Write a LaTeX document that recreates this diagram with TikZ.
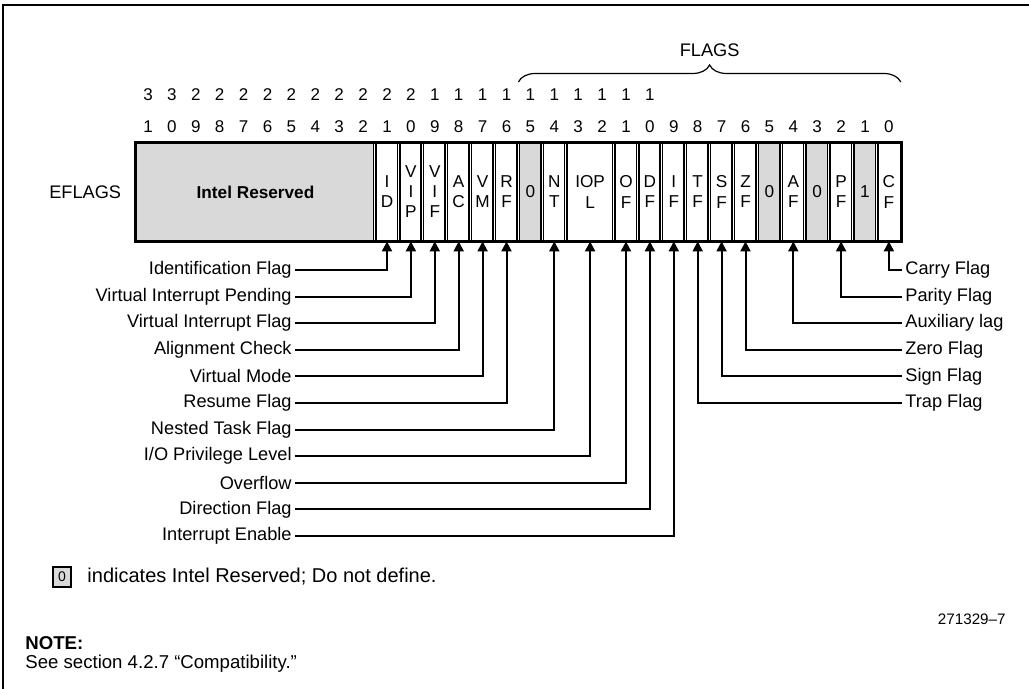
\documentclass[tikz,border=0pt]{standalone}
\usepackage{fontspec}
\setmainfont{Liberation Sans}
\usetikzlibrary{arrows.meta,positioning,decorations.pathreplacing,calc}

\begin{document}
\begin{tikzpicture}[x=0.5pt, y=-0.5pt,
  every node/.style={font=\fontsize{9.1}{10}\selectfont},
  bitno/.style={font=\fontsize{8.5}{9}\selectfont, inner sep=0pt},
  cell/.style={minimum width=11.95pt, minimum height=49pt, inner sep=0pt, align=center, font=\fontsize{8.6}{10}\selectfont},
  rsvd/.style={cell, fill=black!15},
  sep/.style={line width=0.8pt, double=white, double distance=0.4pt},
  flagl/.style={anchor=east, inner sep=1.5pt},
  flagr/.style={anchor=west, inner sep=1.5pt},
  ptr/.style={-{Triangle[width=5pt,length=5pt]}, line width=1pt}
]
  \useasboundingbox (0,0) rectangle (1029,689);
  % page frame
  \draw[line width=1pt] (3,689) -- (3,5) -- (1029,5);

  % register cells
  \node[rsvd, minimum width=119.5pt, font=\bfseries\fontsize{8.6}{10}\selectfont] (rsv) at ({136+5*23.9},192) {Intel Reserved};
  \foreach \b/\t in {21/{I\\D}, 20/{V\\I\\P}, 19/{V\\I\\F}, 18/{A\\C}, 17/{V\\M}, 16/{R\\F},
                     14/{N\\T}, 11/{O\\F}, 10/{D\\F}, 9/{I\\F}, 8/{T\\F}, 7/{S\\F}, 6/{Z\\F},
                     4/{A\\F}, 2/{P\\F}, 0/{C\\F}}
    \node[cell] (b\b) at ({148+(31-\b)*23.9},192) {\t};
  \foreach \b/\t in {15/0, 5/0, 3/0, 1/1}
    \node[rsvd] (b\b) at ({148+(31-\b)*23.9},192) {\t};
  \node[cell, minimum width=23.9pt] (b13) at ({136+19*23.9},192) {IOP\\L};

  \foreach \b in {21,...,13,11,10,...,0}
    \draw[sep] (b\b.north west) -- (b\b.south west);
  \draw[line width=1.7pt] (rsv.north west) rectangle (b0.south east);
  \node[left=3.7pt of rsv] (eflags) {EFLAGS};

  % bit numbers
  \foreach \b in {0,...,31}{
    \pgfmathtruncatemacro\u{mod(\b,10)}
    \pgfmathtruncatemacro\t{floor(\b/10)}
    \node[bitno] (u\b) at ({148+(31-\b)*23.9},127) {\u};
    \ifnum\b>9 \node[bitno] (t\b) at ({148+(31-\b)*23.9},95) {\t}; \fi
  }

  % FLAGS brace
  \coordinate (brL) at ({136+16*23.9},82);
  \coordinate (brR) at ({136+32*23.9},82);
  \draw[line width=0.6pt, decorate, decoration={brace, amplitude=8.5pt}] (brL) -- (brR);
  \node (flags) at ($(brL)!0.5!(brR)+(0,-32)$) {FLAGS};

  % flag names, left side
  \foreach \b/\r/\txt in {21/0/{Identification Flag}, 20/1/{Virtual Interrupt Pending},
                          19/2/{Virtual Interrupt Flag}, 18/3/{Alignment Check},
                          17/4/{Virtual Mode}, 16/5/{Resume Flag}, 14/6/{Nested Task Flag},
                          13/7/{I/O Privilege Level}, 11/8/{Overflow},
                          10/9/{Direction Flag}, 9/10/{Interrupt Enable}}{
    \node[flagl] (l\b) at (295,{270+\r*26.6}) {\txt};
    \draw[ptr] (l\b.east) -| (b\b.south);
  }

  % flag names, right side
  \foreach \b/\r/\txt in {0/0/{Carry Flag}, 2/1/{Parity Flag}, 4/2/{Auxiliary lag},
                          6/3/{Zero Flag}, 7/4/{Sign Flag}, 8/5/{Trap Flag}}{
    \node[flagr] (r\b) at (902,{270+\r*26.6}) {\txt};
    \draw[ptr] (r\b.west) -| (b\b.south);
  }

  % legend and notes
  \node[draw, line width=1.4pt, fill=black!15, inner sep=0pt, minimum width=9pt, minimum height=10pt,
        font=\fontsize{7}{8}\selectfont] (key) at (62,577) {0};
  \node[right=4pt of key, font=\fontsize{10}{12}\selectfont] (keytxt) {indicates Intel Reserved; Do not define.};
  \node[anchor=east, inner sep=0pt, font=\fontsize{7.6}{8}\selectfont] (fignum) at (1006,619) {271329--7};
  \node[anchor=west, inner sep=0pt, font=\bfseries\fontsize{9.3}{10}\selectfont] (note) at (25,643) {NOTE:};
  \node[anchor=west, inner sep=0pt, font=\fontsize{9.3}{10}\selectfont] (notetxt) at (25,664) {See section 4.2.7 ``Compatibility.''};
\end{tikzpicture}
\end{document}
